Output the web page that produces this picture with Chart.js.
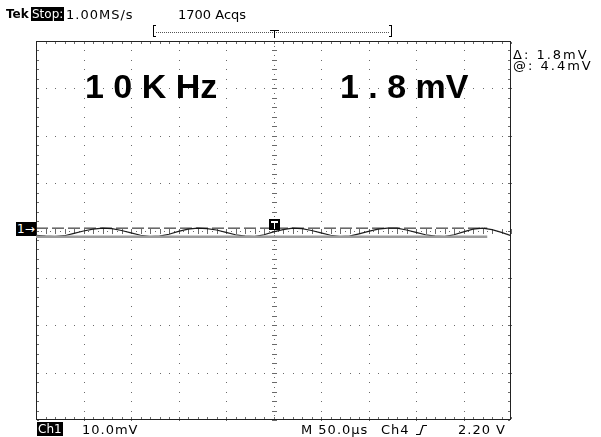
<!DOCTYPE html>
<html>
<head>
<meta charset="utf-8">
<script src="https://cdn.jsdelivr.net/npm/chart.js@4"></script>
<style>
  body { margin: 0; background: #fff; }
  #scope { position: relative; width: 601px; height: 437px; font-family: "DejaVu Sans", sans-serif; font-size: 13px; color: #000; }
  #scope canvas { position: absolute; left: 0; top: 0; }
  .lbl { position: absolute; white-space: pre; line-height: 13px; letter-spacing: 1px; }
  .inv { background: #000; color: #fff; font-size: 12px; line-height: 12px; padding: 1px 1px; letter-spacing: 0; }
  .big { position: absolute; white-space: pre; font-family: "Liberation Sans", Arial, sans-serif; font-weight: bold; font-size: 34px; line-height: 34px; }
</style>
</head>
<body>
<div id="scope">
  <canvas id="lienzo" width="601" height="437"></canvas>

  <span class="lbl" style="left:6px;top:8px;font-size:12px;font-weight:bold;letter-spacing:0">Tek</span>
  <span class="lbl inv" style="left:31px;top:7px">Stop:</span>
  <span class="lbl" style="left:66px;top:8px">1.00MS/s</span>
  <span class="lbl" style="left:178px;top:8px;letter-spacing:0">1700 Acqs</span>

  <span class="lbl" style="left:513px;top:48px;letter-spacing:2px">Δ: 1.8mV</span>
  <span class="lbl" style="left:513px;top:59px;letter-spacing:2px">@: 4.4mV</span>

  <span class="big" style="left:85px;top:69px">1 0 K Hz</span>
  <span class="big" style="left:340px;top:69px">1 . 8 mV</span>

  <span class="lbl inv" style="left:16px;top:222px">1→</span>

  <span class="lbl inv" style="left:37px;top:422px">Ch1</span>
  <span class="lbl" style="left:82px;top:423px">10.0mV</span>
  <span class="lbl" style="left:301px;top:423px">M 50.0µs</span>
  <span class="lbl" style="left:381px;top:423px">Ch4</span>
  <span class="lbl" style="left:458px;top:423px">2.20 V</span>
</div>
<script>
// time base 50 us/div, Ch1 10 mV/div
const timeUs = [0, 10, 20, 30, 40, 50, 60, 70, 80, 90,
  100, 110, 120, 130, 140, 150, 160, 170, 180, 190,
  200, 210, 220, 230, 240, 250, 260, 270, 280, 290,
  300, 310, 320, 330, 340, 350, 360, 370, 380, 390,
  400, 410, 420, 430, 440, 450, 460, 470, 480, 490, 500]
const ch1mV = [-1.0, -1.2, -1.3, -1.1, -0.6, -0.1, 0.3, 0.5, 0.4, 0.0,
  -0.5, -1.0, -1.3, -1.2, -0.8, -0.2, 0.3, 0.5, 0.4, 0.1,
  -0.4, -0.9, -1.2, -1.3, -0.9, -0.3, 0.2, 0.5, 0.4, 0.0,
  -0.5, -1.0, -1.3, -1.2, -0.7, -0.2, 0.3, 0.5, 0.5, 0.1,
  -0.4, -0.9, -1.2, -1.3, -0.9, -0.3, 0.3, 0.5, 0.2, -0.4, -1.1]

// horizontal bar cursors
const cursorTime = [0, 475]
const cursorHigh = [0.5, 0.5]
const cursorLow = [-1.3, -1.3]

const timeDivs = [0, 50, 100, 150, 200, 250, 300, 350, 400, 450, 500]
const voltDivs = [-40, -30, -20, -10, 0, 10, 20, 30, 40]

const pts = (xs, ys) => xs.map((t, i) => ({x: t, y: ys[i]}))

const graticule = {
    id: 'graticule',
    beforeDatasetsDraw(chart) {
        const {ctx, scales: {x, y}} = chart
        const px = t => Math.round(x.getPixelForValue(t))
        const py = v => Math.round(y.getPixelForValue(v))
        const left = px(0), right = px(500) - 1, top = py(40), bottom = py(-40) - 1
        ctx.save()
        ctx.fillStyle = '#6a6a6a'
        // dotted division lines, one dot per minor step
        for (const t of timeDivs.slice(1, -1)) {
            if (t === 250) continue
            for (let v = -40; v <= 40; v += 2) ctx.fillRect(px(t), py(v), 1, 1)
        }
        for (const v of voltDivs.slice(1, -1)) {
            if (v === 0) continue
            for (let t = 0; t <= 500; t += 10) ctx.fillRect(px(t), py(v), 1, 1)
        }
        // centre axes with minor ticks
        for (let v = -40; v <= 40; v += 1) ctx.fillRect(px(250), py(v), 1, 1)
        for (let v = -40; v <= 40; v += 2) ctx.fillRect(px(250) - 2, py(v), 5, 1)
        for (let t = 0; t <= 500; t += 5) ctx.fillRect(px(t), py(0), 1, 1)
        for (let t = 0; t <= 500; t += 10) ctx.fillRect(px(t), py(0) - 2, 1, 5)
        // ticks on the frame
        for (let t = 0; t <= 500; t += 10) {
            ctx.fillRect(px(t), top + 1, 1, 2)
            ctx.fillRect(px(t), bottom - 2, 1, 2)
        }
        for (let v = -40; v <= 40; v += 2) {
            ctx.fillRect(left + 1, py(v), 2, 1)
            ctx.fillRect(right - 2, py(v), 2, 1)
        }
        // frame
        ctx.fillStyle = '#222'
        ctx.fillRect(left, top, right - left + 1, 1)
        ctx.fillRect(left, bottom, right - left + 1, 1)
        ctx.fillRect(left, top, 1, bottom - top + 1)
        ctx.fillRect(right, top, 1, bottom - top + 1)
        ctx.restore()
    },
    afterDraw(chart) {
        const {ctx, scales: {x}} = chart
        const cx = Math.round(x.getPixelForValue(250))
        ctx.save()
        ctx.fillStyle = '#000'
        // trigger marker on the trace
        ctx.fillRect(cx - 5, 219, 11, 11)
        ctx.fillStyle = '#fff'
        ctx.fillRect(cx - 3, 221, 7, 2)
        ctx.fillRect(cx, 221, 1, 8)
        // record window bracket
        ctx.fillStyle = '#000'
        ctx.fillRect(153, 25, 1, 12)
        ctx.fillRect(153, 25, 3, 1)
        ctx.fillRect(153, 36, 3, 1)
        ctx.fillRect(391, 25, 1, 12)
        ctx.fillRect(389, 25, 3, 1)
        ctx.fillRect(389, 36, 3, 1)
        ctx.fillStyle = '#555'
        for (let i = 156; i < 389; i += 2) ctx.fillRect(i, 32, 1, 1)
        ctx.fillStyle = '#000'
        ctx.fillRect(cx - 4, 30, 9, 1)
        ctx.fillRect(cx, 30, 1, 8)
        // Ch4 rising edge symbol
        ctx.strokeStyle = '#000'
        ctx.lineWidth = 1.2
        ctx.beginPath()
        ctx.moveTo(416, 434.5)
        ctx.lineTo(420, 434.5)
        ctx.lineTo(423, 425.5)
        ctx.lineTo(427, 425.5)
        ctx.stroke()
        ctx.restore()
    }
}

new Chart(document.getElementById('lienzo'), {
    type: 'line',
    data: {
        datasets: [
            {data: pts(cursorTime, cursorLow), borderColor: '#9c9c9c', borderWidth: 2.5},
            {data: pts(cursorTime, cursorHigh), borderColor: '#111', borderWidth: 1, borderDash: [12, 4]},
            {data: pts(timeUs, ch1mV), borderColor: '#1e1e1e', borderWidth: 1.2}
        ]
    },
    options: {
        responsive: false,
        animation: false,
        layout: {padding: {left: 36, right: 90, top: 41, bottom: 17}},
        elements: {point: {radius: 0}, line: {tension: 0}},
        plugins: {legend: {display: false}, tooltip: {enabled: false}},
        scales: {
            x: {type: 'linear', min: 0, max: 500, display: false},
            y: {min: -40, max: 40, display: false}
        }
    },
    plugins: [graticule]
})
</script>
</body>
</html>
